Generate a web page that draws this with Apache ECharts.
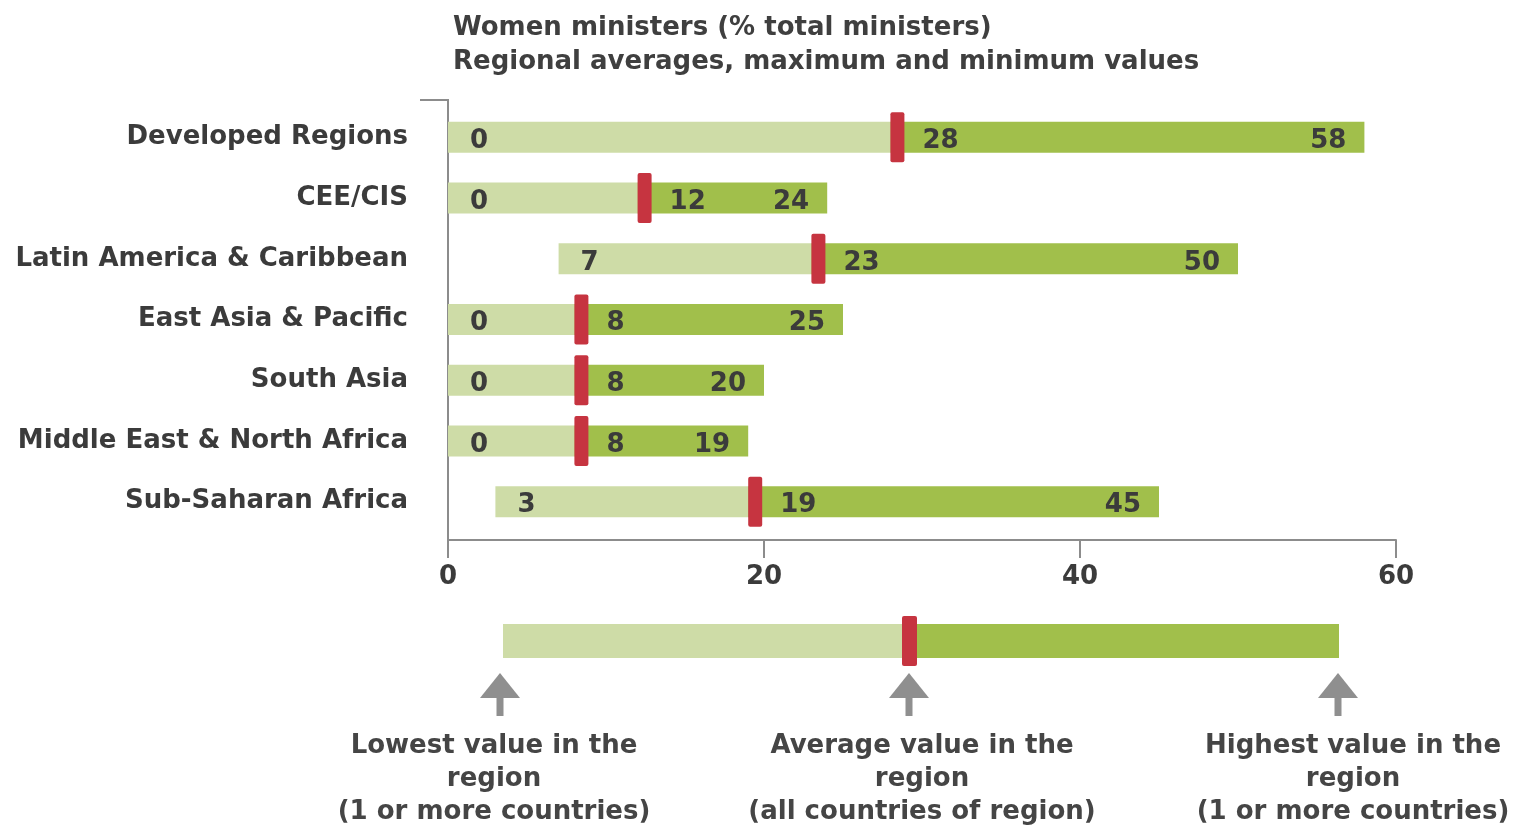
<!DOCTYPE html>
<html>
<head>
<meta charset="utf-8">
<script src="https://cdn.jsdelivr.net/npm/echarts@6/dist/echarts.min.js"></script>
<style>
html,body{margin:0;padding:0;background:#fff;}
#chart{width:1514px;height:827px;}
</style>
</head>
<body>
<div id="chart"></div>
<script>
const categories = ['Developed Regions','CEE/CIS','Latin America & Caribbean','East Asia & Pacific','South Asia','Middle East & North Africa','Sub-Saharan Africa'];
const minValues = [0, 0, 7, 0, 0, 0, 3];
const avgValues = [28, 12, 23, 8, 8, 8, 19];
const maxValues = [58, 24, 50, 25, 20, 19, 45];
const xTicks = [0, 20, 40, 60];
const titleLines = ['Women ministers (% total ministers)', 'Regional averages, maximum and minimum values'];
const legendTexts = [
  'Lowest value in the\nregion\n(1 or more countries)',
  'Average value in the\nregion\n(all countries of region)',
  'Highest value in the\nregion\n(1 or more countries)'
];

const FONT = '"DejaVu Sans", Verdana, sans-serif';
const TEXT = '#3b3b3b';
const LIGHT = '#cedca7';
const DARK = '#a1bf4b';
const RED = '#c63440';
const AXIS = '#8c8c8c';

const data = categories.map((c, i) => [minValues[i], avgValues[i], maxValues[i], i]);

function renderItem(params, api) {
  const idx = api.value(3);
  const pMin = api.coord([api.value(0), idx]);
  const pAvg = api.coord([api.value(1), idx]);
  const pMax = api.coord([api.value(2), idx]);
  const cy = pMin[1];
  const barH = 31, markH = 50, markW = 14;
  const ty = cy + 4;
  const txt = (s, x, align) => ({
    type: 'text', z2: 10,
    style: { text: String(s), x: x, y: ty, align: align, verticalAlign: 'middle',
      fill: TEXT, fontSize: 26, fontWeight: 'bold', fontFamily: FONT }
  });
  return {
    type: 'group',
    children: [
      { type: 'rect', shape: { x: pMin[0], y: cy - barH / 2, width: pAvg[0] - pMin[0], height: barH }, style: { fill: LIGHT } },
      { type: 'rect', shape: { x: pAvg[0], y: cy - barH / 2, width: pMax[0] - pAvg[0], height: barH }, style: { fill: DARK } },
      { type: 'rect', shape: { x: pAvg[0], y: cy - markH / 2, width: markW, height: markH, r: 2 }, style: { fill: RED } },
      txt(api.value(0), pMin[0] + 22, 'left'),
      txt(api.value(1), pAvg[0] + markW + 18, 'left'),
      txt(api.value(2), pMax[0] - 18, 'right')
    ]
  };
}

const legendGraphics = [];
// legend bar
legendGraphics.push({ type: 'rect', shape: { x: 503, y: 624, width: 399, height: 34 }, style: { fill: LIGHT } });
legendGraphics.push({ type: 'rect', shape: { x: 902, y: 624, width: 437, height: 34 }, style: { fill: DARK } });
legendGraphics.push({ type: 'rect', shape: { x: 902, y: 616, width: 15, height: 50, r: 2 }, style: { fill: RED } });
[500, 909, 1338].forEach(cx => {
  legendGraphics.push({ type: 'polygon', shape: { points: [[cx - 20, 698], [cx + 20, 698], [cx, 673]] }, style: { fill: '#8f8f8f' } });
  legendGraphics.push({ type: 'rect', shape: { x: cx - 3.5, y: 697, width: 7, height: 19 }, style: { fill: '#8f8f8f' } });
});
[494, 922, 1353].forEach((cx, i) => {
  legendGraphics.push({ type: 'text', style: { text: legendTexts[i], x: cx, y: 730, align: 'center', verticalAlign: 'top',
    fill: '#454545', fontSize: 26, fontWeight: 'bold', fontFamily: FONT, lineHeight: 33 } });
});
// title
legendGraphics.push({ type: 'text', style: { text: titleLines.join('\n'), x: 453, y: 11, align: 'left', verticalAlign: 'top',
  fill: '#3f3f3f', fontSize: 26, fontWeight: 'bold', fontFamily: FONT, lineHeight: 34 } });
// top tick of the y axis
legendGraphics.push({ type: 'line', shape: { x1: 420, y1: 100, x2: 449, y2: 100 }, style: { stroke: AXIS, lineWidth: 2 } });

const option = {
  animation: false,
  backgroundColor: '#fff',
  grid: [
    { left: 448, right: 118, top: 107, bottom: 295 },
    { left: 448, right: 118, top: 100, bottom: 287 }
  ],
  xAxis: [
    { gridIndex: 0, type: 'value', min: xTicks[0], max: xTicks[xTicks.length - 1], interval: xTicks[1] - xTicks[0], show: false },
    { gridIndex: 1, type: 'value', min: xTicks[0], max: xTicks[xTicks.length - 1], interval: xTicks[1] - xTicks[0],
      axisLine: { show: true, lineStyle: { color: AXIS, width: 2 } },
      axisTick: { show: true, length: 18, lineStyle: { color: AXIS, width: 2 } },
      splitLine: { show: false },
      axisLabel: { margin: 24, color: TEXT, fontSize: 26, fontWeight: 'bold', fontFamily: FONT } }
  ],
  yAxis: [
    { gridIndex: 0, type: 'category', data: categories, inverse: true,
      axisLine: { show: false }, axisTick: { show: false }, splitLine: { show: false },
      axisLabel: { margin: 40, color: TEXT, fontSize: 26, fontWeight: 'bold', fontFamily: FONT } },
    { gridIndex: 1, type: 'value', min: 0, max: 1,
      axisLine: { show: true, lineStyle: { color: AXIS, width: 2 } },
      axisTick: { show: false }, axisLabel: { show: false }, splitLine: { show: false } }
  ],
  series: [{
    type: 'custom',
    xAxisIndex: 0, yAxisIndex: 0,
    renderItem: renderItem,
    encode: { x: [0, 1, 2], y: 3 },
    data: data,
    z: 5
  }],
  graphic: legendGraphics
};

const chart = echarts.init(document.getElementById('chart'));
chart.setOption(option);
</script>
</body>
</html>
